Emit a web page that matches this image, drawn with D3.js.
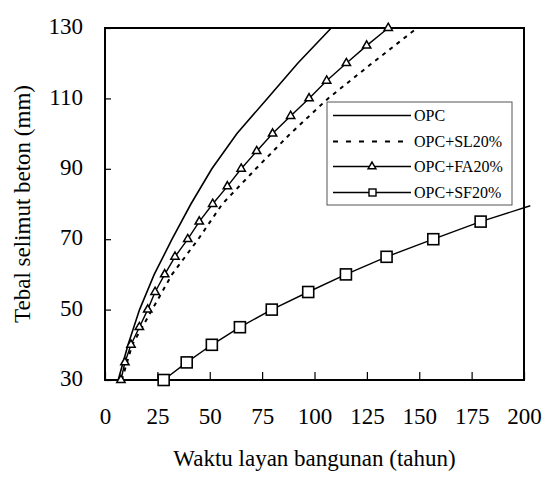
<!DOCTYPE html>
<html lang="en">
<head>
    <meta charset="UTF-8">
    <title>Tebal selimut beton vs waktu layan</title>
    <script src="https://cdn.jsdelivr.net/npm/d3@7"></script>
    <style>
        body {
            margin: 0;
            background: #fff;
        }

        #chart svg {
            display: block;
            font-family: "Liberation Serif", "Times New Roman", serif;
        }

        #chart svg text {
            font-family: "Liberation Serif", "Times New Roman", serif;
        }
    </style>
</head>
<body>
<div id="chart"></div>
<script>
    const xTicks = [0, 25, 50, 75, 100, 125, 150, 175, 200]
    const yTicks = [30, 50, 70, 90, 110, 130]

    // OPC (solid, no markers)
    const opcY = [30, 40, 50, 60, 70, 80, 90, 100, 110, 120, 130]
    const opcX = [6.3, 11, 16.5, 23.5, 32, 41, 51, 63, 77.5, 92, 108]

    // OPC+SL20% (dashed)
    const slY = [30, 40, 50, 60, 70, 80, 90, 100, 110, 120, 130]
    const slX = [8, 13, 22.5, 32, 44.5, 56, 72, 88.5, 106.5, 127.5, 149]

    // OPC+FA20% (triangles)
    const faY = [30, 35, 40, 45, 50, 55, 60, 65, 70, 75, 80, 85, 90, 95, 100, 105, 110, 115, 120, 125, 130]
    const faX = [7.6, 9.5, 12.4, 16.4, 20.4, 23.9, 28.5, 33.4, 39.5, 45, 51.4, 58.4, 65, 72.4, 80, 88.6, 97.4, 105.8, 115.2, 124.9, 135.2]

    // OPC+SF20% (squares)
    const sfY = [30, 35, 40, 45, 50, 55, 60, 65, 70, 75, 79.5]
    const sfX = [28, 39, 51, 64.4, 79.6, 97, 115, 134.4, 156.7, 179.3, 203]

    const seriesNames = ["OPC", "OPC+SL20%", "OPC+FA20%", "OPC+SF20%"]

    const W = 556, H = 493
    const margin = {left: 105, top: 28, right: 32, bottom: 113}
    const plotW = W - margin.left - margin.right
    const plotH = H - margin.top - margin.bottom

    const svg = d3.select("#chart").append("svg")
        .attr("width", W)
        .attr("height", H)

    const g = svg.append("g")
        .attr("transform", `translate(${margin.left},${margin.top})`)

    const x = d3.scaleLinear().domain([0, 200]).range([0, plotW])
    const y = d3.scaleLinear().domain([30, 130]).range([plotH, 0])

    // axes (ticks point inward)
    const xAxis = g.append("g")
        .attr("transform", `translate(0,${plotH})`)
        .call(d3.axisBottom(x).tickValues(xTicks).tickSizeInner(-8).tickSizeOuter(0).tickPadding(28))
        .attr("font-family", null)
        .attr("font-size", null)
    xAxis.select(".domain").remove()
    xAxis.selectAll("line").attr("stroke", "#000").attr("stroke-width", 1.2)
    xAxis.selectAll("text").style("font-size", "23px").attr("fill", "#000")

    const yAxis = g.append("g")
        .call(d3.axisLeft(y).tickValues(yTicks).tickSizeInner(-6).tickSizeOuter(0).tickPadding(22))
        .attr("font-family", null)
        .attr("font-size", null)
    yAxis.select(".domain").remove()
    yAxis.selectAll("line").attr("stroke", "#000").attr("stroke-width", 1.2)
    yAxis.selectAll("text").style("font-size", "23px").attr("fill", "#000").attr("dy", "0.25em")

    // frame
    g.append("rect")
        .attr("width", plotW)
        .attr("height", plotH)
        .attr("fill", "none")
        .attr("stroke", "#000")
        .attr("stroke-width", 2)

    const line = d3.line()
        .x((d) => x(d[0]))
        .y((d) => y(d[1]))

    const zip = (xs, ys) => xs.map((v, i) => [v, ys[i]])

    const opc = zip(opcX, opcY)
    const sl = zip(slX, slY)
    const fa = zip(faX, faY)
    const sf = zip(sfX, sfY)

    g.append("path").datum(opc)
        .attr("d", line)
        .attr("fill", "none")
        .attr("stroke", "#000")
        .attr("stroke-width", 1.6)

    g.append("path").datum(sl)
        .attr("d", line)
        .attr("fill", "none")
        .attr("stroke", "#000")
        .attr("stroke-width", 2)
        .attr("stroke-dasharray", "4,5")

    g.append("path").datum(fa)
        .attr("d", line)
        .attr("fill", "none")
        .attr("stroke", "#000")
        .attr("stroke-width", 1.4)

    g.append("path").datum(sf)
        .attr("d", line)
        .attr("fill", "none")
        .attr("stroke", "#000")
        .attr("stroke-width", 1.4)

    const tri = d3.symbol().type(d3.symbolTriangle).size(30)

    g.selectAll(".tri")
        .data(fa)
        .enter().append("path")
        .attr("class", "tri")
        .attr("d", tri)
        .attr("transform", (d) => `translate(${x(d[0])},${y(d[1])})`)
        .attr("fill", "#fff")
        .attr("stroke", "#000")
        .attr("stroke-width", 1.5)

    const sq = 11
    g.selectAll(".sq")
        .data(sf.filter((d) => d[0] <= 200))
        .enter().append("rect")
        .attr("class", "sq")
        .attr("x", (d) => x(d[0]) - sq / 2)
        .attr("y", (d) => y(d[1]) - sq / 2)
        .attr("width", sq)
        .attr("height", sq)
        .attr("fill", "#fff")
        .attr("stroke", "#000")
        .attr("stroke-width", 1.6)

    // legend
    const legend = svg.append("g")
        .attr("transform", "translate(327,102)")

    legend.append("rect")
        .attr("width", 185)
        .attr("height", 103)
        .attr("fill", "#fff")
        .attr("stroke", "#555")
        .attr("stroke-width", 1)

    const rowY = [13.5, 39.5, 64.5, 90.5]

    seriesNames.forEach((name, i) => {
        const ly = rowY[i]
        legend.append("line")
            .attr("x1", 6).attr("x2", 84)
            .attr("y1", ly).attr("y2", ly)
            .attr("stroke", "#000")
            .attr("stroke-width", i === 1 ? 2 : 1.5)
            .attr("stroke-dasharray", i === 1 ? "5,8" : null)

        if (i === 2) {
            legend.append("path")
                .attr("d", d3.symbol().type(d3.symbolTriangle).size(26))
                .attr("transform", `translate(45,${ly})`)
                .attr("fill", "#fff")
                .attr("stroke", "#000")
                .attr("stroke-width", 1.5)
        }
        if (i === 3) {
            legend.append("rect")
                .attr("x", 42).attr("y", ly - 3.5)
                .attr("width", 7).attr("height", 7)
                .attr("fill", "#fff")
                .attr("stroke", "#000")
                .attr("stroke-width", 1.4)
        }

        legend.append("text")
            .attr("x", 87)
            .attr("y", ly)
            .attr("dy", "0.35em")
            .style("font-size", "16px")
            .text(name)
    })

    // axis titles
    svg.append("text")
        .attr("x", margin.left + plotW / 2)
        .attr("y", 466)
        .attr("text-anchor", "middle")
        .style("font-size", "23px")
        .text("Waktu layan bangunan (tahun)")

    svg.append("text")
        .attr("transform", `translate(30,${margin.top + plotH / 2}) rotate(-90)`)
        .attr("text-anchor", "middle")
        .style("font-size", "23px")
        .text("Tebal selimut beton (mm)")
</script>
</body>
</html>
